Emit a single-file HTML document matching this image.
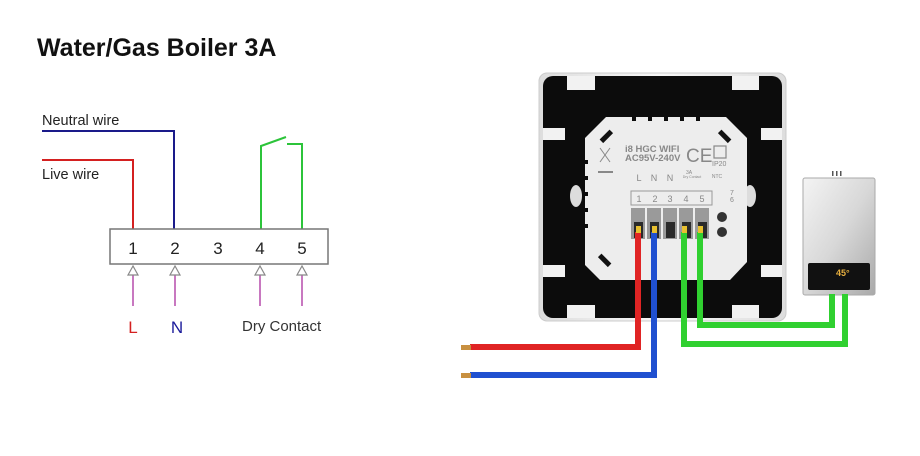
<!DOCTYPE html>
<html><head><meta charset="utf-8"><style>
html,body{margin:0;padding:0;background:#fff;width:920px;height:456px;overflow:hidden}
svg{display:block}
text{font-family:"Liberation Sans",Arial,sans-serif}
</style></head><body>
<svg width="920" height="456" viewBox="0 0 920 456" xmlns="http://www.w3.org/2000/svg">
<defs>
<linearGradient id="boil" x1="0" y1="0" x2="1" y2="1">
<stop offset="0" stop-color="#f4f4f4"/><stop offset="0.5" stop-color="#d8d8d8"/><stop offset="1" stop-color="#a9a9a9"/>
</linearGradient>
<linearGradient id="plate" x1="0" y1="0" x2="1" y2="0">
<stop offset="0" stop-color="#ddd"/><stop offset="0.5" stop-color="#f8f8f8"/><stop offset="1" stop-color="#ddd"/>
</linearGradient>
</defs>
<!-- Title -->
<text x="37" y="56" font-size="25" font-weight="bold" fill="#111">Water/Gas Boiler 3A</text>

<!-- Left schematic -->
<text x="42" y="125" font-size="14.5" fill="#222">Neutral wire</text>
<text x="42" y="179" font-size="14.5" fill="#222">Live wire</text>
<polyline points="42,131 174,131 174,229" fill="none" stroke="#1a1a8a" stroke-width="2"/>
<polyline points="42,160 133,160 133,229" fill="none" stroke="#d42020" stroke-width="2"/>
<polyline points="261,229 261,146 286,137" fill="none" stroke="#2cc43a" stroke-width="2"/>
<polyline points="287,144 302,144 302,229" fill="none" stroke="#2cc43a" stroke-width="2"/>
<rect x="110" y="229" width="218" height="35" fill="#fff" stroke="#777" stroke-width="1.5"/>
<g font-size="17" fill="#222" text-anchor="middle">
<text x="133" y="254">1</text><text x="175" y="254">2</text><text x="218" y="254">3</text><text x="260" y="254">4</text><text x="302" y="254">5</text>
</g>
<g stroke="#c878c0" stroke-width="2">
<line x1="133" y1="274" x2="133" y2="306"/><line x1="175" y1="274" x2="175" y2="306"/>
<line x1="260" y1="274" x2="260" y2="306"/><line x1="302" y1="274" x2="302" y2="306"/>
</g>
<g fill="#fff" stroke="#888" stroke-width="1.2">
<polygon points="133,266 128,275 138,275"/><polygon points="175,266 170,275 180,275"/>
<polygon points="260,266 255,275 265,275"/><polygon points="302,266 297,275 307,275"/>
</g>
<text x="133" y="333" font-size="17" fill="#d42020" text-anchor="middle">L</text>
<text x="177" y="333" font-size="17" fill="#1a1a9a" text-anchor="middle">N</text>
<text x="242" y="331" font-size="15" fill="#333">Dry Contact</text>

<!-- Thermostat plate -->
<rect x="539" y="73" width="247" height="248" rx="8" fill="url(#plate)" stroke="#ccc"/>
<rect x="543" y="76" width="239" height="242" rx="10" fill="#0c0c0c"/>
<g fill="#f2f2f2">
<rect x="567" y="76" width="28" height="14"/><rect x="732" y="76" width="27" height="14"/>
<rect x="567" y="305" width="28" height="13"/><rect x="732" y="305" width="27" height="13"/>
<rect x="543" y="128" width="22" height="12"/><rect x="761" y="128" width="21" height="12"/>
<rect x="543" y="265" width="22" height="12"/><rect x="761" y="265" width="21" height="12"/>
</g>
<ellipse cx="576" cy="196" rx="6" ry="11" fill="#ddd"/>
<ellipse cx="750" cy="196" rx="6" ry="11" fill="#ddd"/>
<!-- module -->
<polygon points="606,117 726,117 747,138 747,262 730,280 600,280 585,265 585,138" fill="#ededed"/>
<g fill="#0c0c0c">
<rect x="632" y="117" width="4" height="4"/><rect x="648" y="117" width="4" height="4"/><rect x="664" y="117" width="4" height="4"/><rect x="680" y="117" width="4" height="4"/><rect x="696" y="117" width="4" height="4"/>
<rect x="585" y="160" width="3" height="4"/><rect x="585" y="176" width="3" height="4"/><rect x="585" y="192" width="3" height="4"/><rect x="585" y="208" width="3" height="4"/><rect x="585" y="224" width="3" height="4"/>
</g>
<rect x="599" y="134" width="14" height="5" fill="#111" transform="rotate(-45 606 136)"/>
<rect x="718" y="134" width="14" height="5" fill="#111" transform="rotate(45 725 136)"/>
<rect x="598" y="258" width="14" height="5" fill="#111" transform="rotate(45 605 260)"/>
<g fill="#888" font-size="9.5" font-weight="bold">
<text x="625" y="152">i8 HGC WIFI</text><text x="625" y="161">AC95V-240V</text>
</g>
<text x="686" y="162" font-size="19" fill="#888">CE</text>
<rect x="714" y="146" width="12" height="12" fill="none" stroke="#888" stroke-width="1.2"/>
<text x="712" y="166" font-size="7" fill="#888">IP20</text>
<g stroke="#888" stroke-width="1" fill="none">
<line x1="600" y1="148" x2="610" y2="162"/><line x1="610" y1="148" x2="600" y2="162"/><line x1="598" y1="172" x2="613" y2="172" stroke-width="2"/>
</g>
<g fill="#888" font-size="9" text-anchor="middle">
<text x="639" y="181">L</text><text x="654" y="181">N</text><text x="670" y="181">N</text>
<text x="689" y="174" font-size="5">3A</text><text x="692" y="178" font-size="3.5">Dry Contact</text>
<text x="717" y="178" font-size="5">NTC</text>
<text x="732" y="195" font-size="7">7</text><text x="732" y="202" font-size="7">6</text>
</g>
<rect x="631" y="191" width="81" height="14" fill="none" stroke="#999"/>
<g fill="#888" font-size="9" text-anchor="middle">
<text x="639" y="202">1</text><text x="655" y="202">2</text><text x="670" y="202">3</text><text x="686" y="202">4</text><text x="702" y="202">5</text>
</g>
<!-- terminals -->
<g fill="#9a9a9a">
<rect x="631" y="208" width="14" height="31"/><rect x="647" y="208" width="14" height="31"/><rect x="663" y="208" width="14" height="31"/><rect x="679" y="208" width="14" height="31"/><rect x="695" y="208" width="14" height="31"/>
</g>
<g fill="#2a2a2a">
<rect x="634" y="222" width="9" height="16"/><rect x="650" y="222" width="9" height="16"/><rect x="666" y="222" width="9" height="16"/><rect x="682" y="222" width="9" height="16"/><rect x="698" y="222" width="9" height="16"/>
</g>
<circle cx="722" cy="217" r="5" fill="#333"/><circle cx="722" cy="232" r="5" fill="#333"/>
<!-- boiler -->
<rect x="803" y="178" width="72" height="117" rx="2" fill="url(#boil)" stroke="#aaa"/>
<rect x="808" y="263" width="62" height="27" rx="2" fill="#111"/>
<text x="836" y="276" font-size="9" fill="#e8b040" font-weight="bold">45°</text>
<rect x="832" y="171" width="1.5" height="5" fill="#555"/><rect x="836" y="171" width="1.5" height="5" fill="#555"/><rect x="840" y="171" width="1.5" height="5" fill="#555"/>
<!-- wires -->
<g fill="none" stroke-width="6" stroke-linejoin="miter">
<polyline points="638,232 638,347 470,347" stroke="#e02424"/>
<polyline points="654,232 654,375 470,375" stroke="#2050d0"/>
<polyline points="684,232 684,344 845,344 845,294" stroke="#30d030"/>
<polyline points="700,232 700,325 832,325 832,294" stroke="#30d030"/>
</g>
<g fill="#e8c030"><rect x="636" y="226" width="5" height="7"/><rect x="652" y="226" width="5" height="7"/><rect x="682" y="226" width="5" height="7"/><rect x="698" y="226" width="5" height="7"/></g>
<rect x="461" y="345" width="10" height="5" fill="#c89040"/>
<rect x="461" y="373" width="10" height="5" fill="#c89040"/>
</svg>
</body></html>
